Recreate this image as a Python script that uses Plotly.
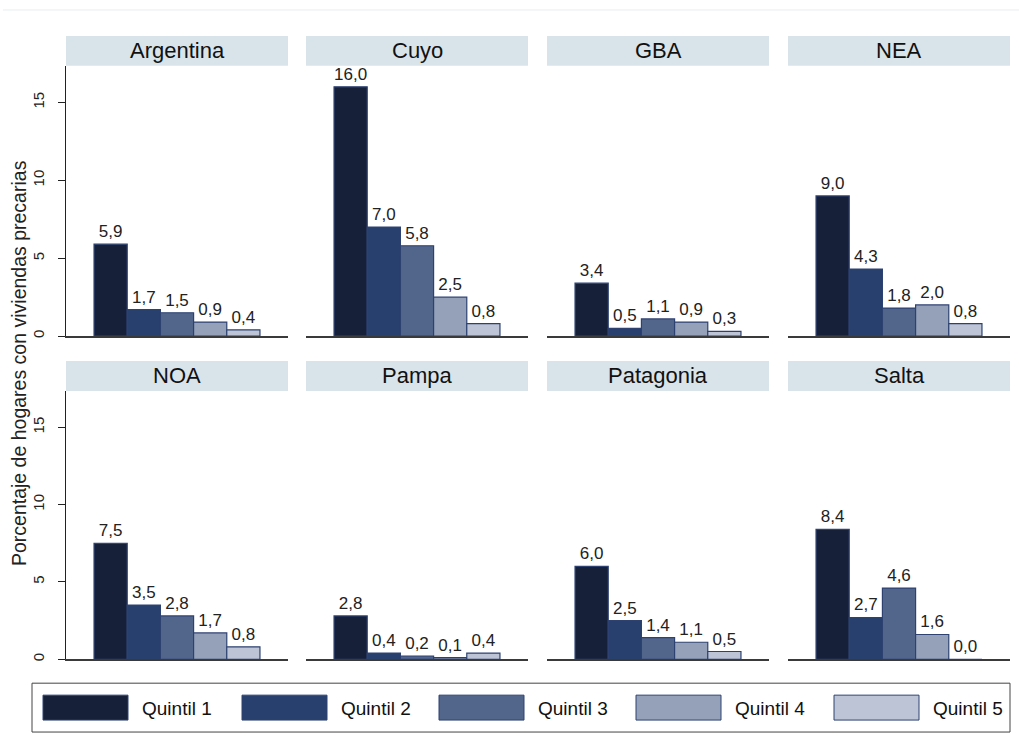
import plotly.graph_objects as go

# ---- data ----
regions = ["Argentina", "Cuyo", "GBA", "NEA", "NOA", "Pampa", "Patagonia", "Salta"]
quintiles = ["Quintil 1", "Quintil 2", "Quintil 3", "Quintil 4", "Quintil 5"]
quintil_1 = [5.9, 16.0, 3.4, 9.0, 7.5, 2.8, 6.0, 8.4]
quintil_2 = [1.7, 7.0, 0.5, 4.3, 3.5, 0.4, 2.5, 2.7]
quintil_3 = [1.5, 5.8, 1.1, 1.8, 2.8, 0.2, 1.4, 4.6]
quintil_4 = [0.9, 2.5, 0.9, 2.0, 1.7, 0.1, 1.1, 1.6]
quintil_5 = [0.4, 0.8, 0.3, 0.8, 0.8, 0.4, 0.5, 0.0]
y_ticks = [0, 5, 10, 15]
y_title = "Porcentaje de hogares con viviendas precarias"

# ---- style ----
colors = ["#172039", "#27406D", "#52658B", "#95A1B8", "#BDC4D5"]
outline = "#2E4272"
W, H = 1019, 751
FONT = "Liberation Sans, Arial, sans-serif"

col_px = [(66, 288), (306, 528), (547, 769), (788, 1010)]
row_px = [(66, 337), (392, 661)]          # plot area top/bottom (px from top)
strip_px = [(36, 66), (362, 392)]

def px_x(v):
    return v / W

def px_y(v):
    return 1 - v / H

series = [quintil_1, quintil_2, quintil_3, quintil_4, quintil_5]

fig = go.Figure()
layout = dict(
    width=W, height=H,
    margin=dict(l=0, r=0, t=0, b=0),
    paper_bgcolor="white", plot_bgcolor="white",
    showlegend=False, barmode="overlay", separators=",.",
    font=dict(family=FONT, color="#222"),
)
shapes = []
annotations = []

for i, reg in enumerate(regions):
    r, c = divmod(i, 4)
    n = i + 1
    xa = "x" if n == 1 else f"x{n}"
    ya = "y" if n == 1 else f"y{n}"
    vals = [s[i] for s in series]
    fig.add_trace(go.Bar(
        x=quintiles, y=vals, xaxis=xa, yaxis=ya, width=1,
        marker=dict(color=colors, line=dict(color=outline, width=1.2)),
        texttemplate="%{y:.1f}", textposition="outside", cliponaxis=False,
        constraintext="none",
        textfont=dict(size=17, color="#222", family=FONT),
        hoverinfo="skip",
    ))
    x0, x1 = col_px[c]
    yt, yb = row_px[r]
    layout["xaxis" if n == 1 else f"xaxis{n}"] = dict(
        domain=[px_x(x0), px_x(x1)], anchor=ya, type="category",
        range=[-1.345, 5.345], showticklabels=False, ticks="",
        showline=True, linecolor="#3a3a3a", linewidth=1.6, showgrid=False,
        zeroline=False, fixedrange=True,
    )
    first_col = (c == 0)
    layout["yaxis" if n == 1 else f"yaxis{n}"] = dict(
        domain=[px_y(yb), px_y(yt)], anchor=xa, range=[0, 17.35],
        tickvals=y_ticks, showticklabels=first_col,
        ticks="outside" if first_col else "", ticklen=7, tickcolor="#222",
        tickwidth=1.2,
        showline=first_col, linecolor="#222", linewidth=1.4,
        showgrid=False, zeroline=False, tickangle=-90,
        ticklabelstandoff=8,
        tickfont=dict(size=15, color="#222", family=FONT), fixedrange=True,
    )
    sy0, sy1 = strip_px[r]
    shapes.append(dict(type="rect", xref="paper", yref="paper",
                       x0=px_x(x0), x1=px_x(x1), y0=px_y(sy1), y1=px_y(sy0),
                       fillcolor="#D9E4EA", line=dict(width=0), layer="below"))
    annotations.append(dict(xref="paper", yref="paper", x=px_x((x0 + x1) / 2),
                            y=px_y((sy0 + sy1) / 2), text=reg, showarrow=False,
                            xanchor="center", yanchor="middle",
                            font=dict(size=22, color="#111", family=FONT)))

# y-axis title
annotations.append(dict(xref="paper", yref="paper", x=px_x(19), y=px_y(364),
                        text=y_title, textangle=-90, showarrow=False,
                        xanchor="center", yanchor="middle",
                        font=dict(size=19.5, color="#222", family=FONT)))

# faint top rule
shapes.append(dict(type="line", xref="paper", yref="paper", x0=px_x(3), x1=1,
                   y0=px_y(10), y1=px_y(10), line=dict(color="#E6EEEF", width=1)))

# legend box (drawn manually to reproduce large swatches)
shapes.append(dict(type="rect", xref="paper", yref="paper",
                   x0=px_x(32), x1=px_x(1010), y0=px_y(734), y1=px_y(685),
                   line=dict(color="#444", width=1), fillcolor="white"))
sw_x = [43, 242, 439, 636, 834]
for q, col, sx in zip(quintiles, colors, sw_x):
    shapes.append(dict(type="rect", xref="paper", yref="paper",
                       x0=px_x(sx), x1=px_x(sx + 85), y0=px_y(722), y1=px_y(697),
                       fillcolor=col, line=dict(color=outline, width=1)))
    annotations.append(dict(xref="paper", yref="paper", x=px_x(sx + 97),
                            y=px_y(710), text=q, showarrow=False,
                            xanchor="left", yanchor="middle",
                            font=dict(size=19, color="#111", family=FONT)))

layout["shapes"] = shapes
layout["annotations"] = annotations
fig.update_layout(**layout)

fig.write_html("out.html", config={"displayModeBar": False},
               post_script="document.body.style.margin='0';")
